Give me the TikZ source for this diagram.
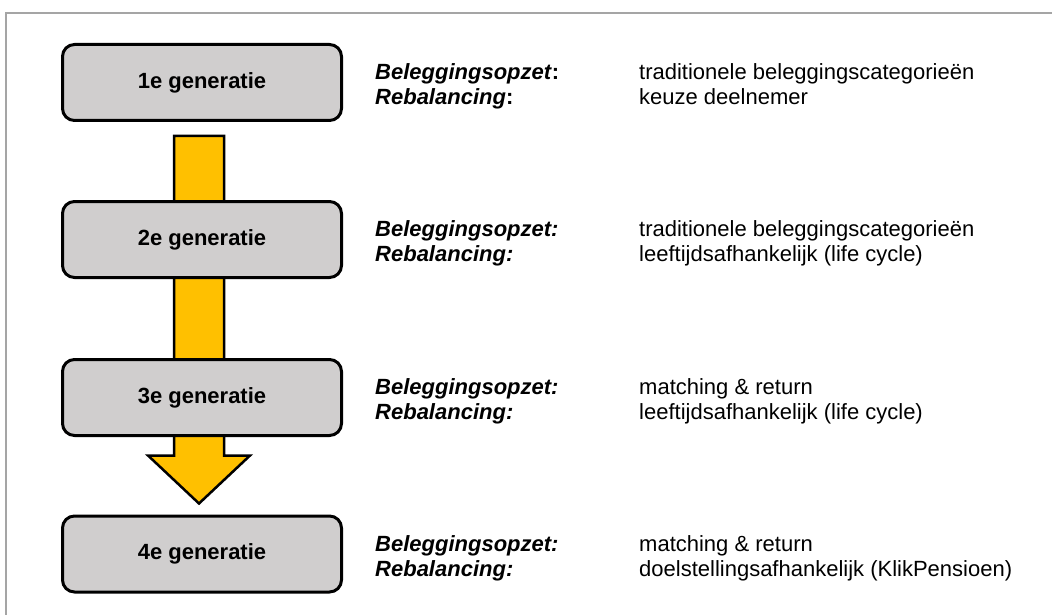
\documentclass[tikz,border=0pt]{standalone}
\usepackage{fontspec}
\setmainfont{Liberation Sans}
\usetikzlibrary{calc,backgrounds}
\definecolor{boxgray}{RGB}{208,206,206}
\definecolor{arrowgold}{RGB}{255,192,0}
\definecolor{framegray}{RGB}{165,165,165}
\begin{document}
\begin{tikzpicture}[x=1pt,y=-1pt,
  gen/.style={draw=black, line width=3pt, fill=boxgray, rounded corners=12pt,
    minimum width=279pt, minimum height=76pt, inner sep=0pt,
    font=\fontsize{22}{26}\selectfont\bfseries},
  lbl/.style={anchor=base west, inner sep=0pt,
    font=\fontsize{22}{26}\selectfont\bfseries\itshape},
  val/.style={anchor=base west, inner sep=0pt,
    font=\fontsize{22}{26}\selectfont},
  flow/.style={draw=black, line width=2.5pt, fill=arrowgold, line join=miter},
]
\useasboundingbox (0,0) rectangle (1052,615);

% outer frame (top and left edges)
\draw[framegray, line width=1.5pt] (1052,13) -- (6,13) -- (6,615);

% generation boxes
\node[gen] (g1) at (202,82.5) {1e generatie};
\node[gen] (g2) at (202,239.5) {2e generatie};
\node[gen] (g3) at (202,397.5) {3e generatie};
\node[gen] (g4) at (202,554) {4e generatie};

% block arrow running behind the boxes
\coordinate (atop) at ($(g1.south)+(-3,14)$);
\coordinate (atip) at ($(g4.north)+(-3,-11)$);
\begin{scope}[on background layer]
  \draw[flow] ($(atop)+(-25,0)$) -- ($(atop)+(25,0)$)
    -- ($(atip)+(25,-48)$) -- ($(atip)+(51,-48)$) -- (atip)
    -- ($(atip)+(-51,-48)$) -- ($(atip)+(-25,-48)$) -- cycle;
\end{scope}

% descriptions
\node[lbl] (l1a) at ($(g1.center)+(173,-3)$) {Beleggingsopzet\textup{:}};
\node[lbl] (l1b) at ($(g1.center)+(173,22)$) {Rebalancing\textup{:}};
\node[val] (v1a) at ($(g1.center)+(437,-3)$) {traditionele beleggingscategorieën};
\node[val] (v1b) at ($(g1.center)+(437,22)$) {keuze deelnemer};

\node[lbl] (l2a) at ($(g2.center)+(173,-3)$) {Beleggingsopzet:};
\node[lbl] (l2b) at ($(g2.center)+(173,22)$) {Rebalancing:};
\node[val] (v2a) at ($(g2.center)+(437,-3)$) {traditionele beleggingscategorieën};
\node[val] (v2b) at ($(g2.center)+(437,22)$) {leeftijdsafhankelijk (life cycle)};

\node[lbl] (l3a) at ($(g3.center)+(173,-3)$) {Beleggingsopzet:};
\node[lbl] (l3b) at ($(g3.center)+(173,22)$) {Rebalancing:};
\node[val] (v3a) at ($(g3.center)+(437,-3)$) {matching \& return};
\node[val] (v3b) at ($(g3.center)+(437,22)$) {leeftijdsafhankelijk (life cycle)};

\node[lbl] (l4a) at ($(g4.center)+(173,-3)$) {Beleggingsopzet:};
\node[lbl] (l4b) at ($(g4.center)+(173,22)$) {Rebalancing:};
\node[val] (v4a) at ($(g4.center)+(437,-3)$) {matching \& return};
\node[val] (v4b) at ($(g4.center)+(437,22)$) {doelstellingsafhankelijk (KlikPensioen)};
\end{tikzpicture}
\end{document}
